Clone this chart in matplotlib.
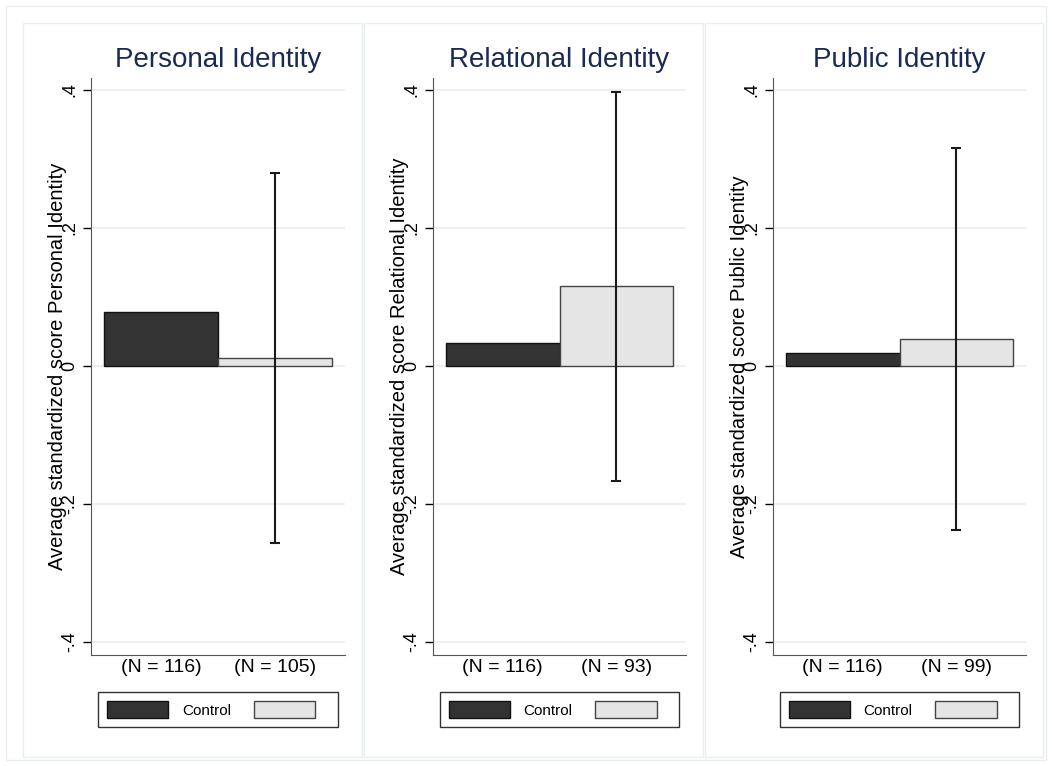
import matplotlib
matplotlib.use("Agg")
import matplotlib.pyplot as plt
from matplotlib.patches import Patch, Rectangle

plt.rcParams['font.family'] = ['Liberation Sans', 'DejaVu Sans']

# ==============================
# DATOS
# ==============================
grupos = ['Personal Identity', 'Relational Identity', 'Public Identity']
control_media = [0.078, 0.033, 0.018]
tratamiento_media = [0.011, 0.115, 0.039]
ic_bajo = [-0.257, -0.167, -0.238]
ic_alto = [0.280, 0.396, 0.316]
n_control = [116, 116, 116]
n_tratamiento = [105, 93, 99]

yticks = [-0.4, -0.2, 0, 0.2, 0.4]
ytick_labels = ['-.4', '-.2', '0', '.2', '.4']

W, H = 1052, 766
COLOR_CONTROL = '#333333'
COLOR_TRAT = '#e5e5e5'
COLOR_TITULO = '#1a2b52'
COLOR_GRID = '#e8eff0'

fig = plt.figure(figsize=(W / 100, H / 100), dpi=100)

# marcos de fondo (estilo Stata)
fig.patches.append(Rectangle((6 / W, 1 - 760 / H), 1040 / W, 754 / H,
                             transform=fig.transFigure, fill=False,
                             edgecolor=COLOR_GRID, lw=1))
paneles_x = [(23, 362), (364, 703), (705, 1043)]
for x0, x1 in paneles_x:
    fig.patches.append(Rectangle((x0 / W, 1 - 757 / H), (x1 - x0) / W, 734 / H,
                                 transform=fig.transFigure, fill=False,
                                 edgecolor=COLOR_GRID, lw=1))

ejes_x = [(91, 345), (433, 686), (773, 1026)]
top, bottom = 78, 655

for i, (x0, x1) in enumerate(ejes_x):
    ax = fig.add_axes([x0 / W, 1 - bottom / H, (x1 - x0) / W, (bottom - top) / H])

    ax.bar([0], [control_media[i]], width=1, align='edge',
           color=COLOR_CONTROL, edgecolor='#111111', lw=1, zorder=2)
    ax.bar([1], [tratamiento_media[i]], width=1, align='edge',
           color=COLOR_TRAT, edgecolor='#444444', lw=1, zorder=2)

    err_bajo = tratamiento_media[i] - ic_bajo[i]
    err_alto = ic_alto[i] - tratamiento_media[i]
    ax.errorbar([1.5], [tratamiento_media[i]], yerr=[[err_bajo], [err_alto]],
                fmt='none', ecolor='#1a1a1a', elinewidth=1.5, capsize=3.3,
                capthick=1.5, zorder=3)

    ax.set_xlim(-13 / 114, 2 + 13 / 114)
    ax.set_ylim(-0.419, 0.417)

    ax.set_yticks(yticks, ytick_labels)
    ax.set_xticks([0.5, 1.5], [f'(N = {n_control[i]})', f'(N = {n_tratamiento[i]})'])
    ax.tick_params(axis='y', length=6, width=1, labelrotation=90, labelsize=13, pad=3)
    ax.tick_params(axis='x', length=0, labelsize=14, pad=3)
    for lbl in ax.get_yticklabels():
        lbl.set_va('center')

    ax.grid(axis='y', color=COLOR_GRID, lw=1.2, zorder=0)
    ax.set_axisbelow(True)
    for lado in ['top', 'right']:
        ax.spines[lado].set_visible(False)
    ax.spines['left'].set_color('#555555')
    ax.spines['bottom'].set_color('#555555')

    ax.set_title(grupos[i], fontsize=20, color=COLOR_TITULO, pad=8)
    ax.set_ylabel(f'Average standardized score {grupos[i]}', fontsize=14.5)
    ax.yaxis.set_label_coords(-24 / (x1 - x0), 0.5)

    handles = [Patch(facecolor=COLOR_CONTROL, edgecolor='#111111'),
               Patch(facecolor=COLOR_TRAT, edgecolor='#444444')]
    leg = ax.legend(handles, ['Control', ''], ncol=2, loc='upper center',
                    bbox_to_anchor=(0.5, -37 / (bottom - top)), borderaxespad=0,
                    fontsize=11, frameon=True, fancybox=False, edgecolor='black',
                    handlelength=4.0, handleheight=1.3, borderpad=0.6,
                    handletextpad=0.9, columnspacing=1.5)
    leg.get_frame().set_linewidth(1)

fig.savefig('out.png', dpi=100)
